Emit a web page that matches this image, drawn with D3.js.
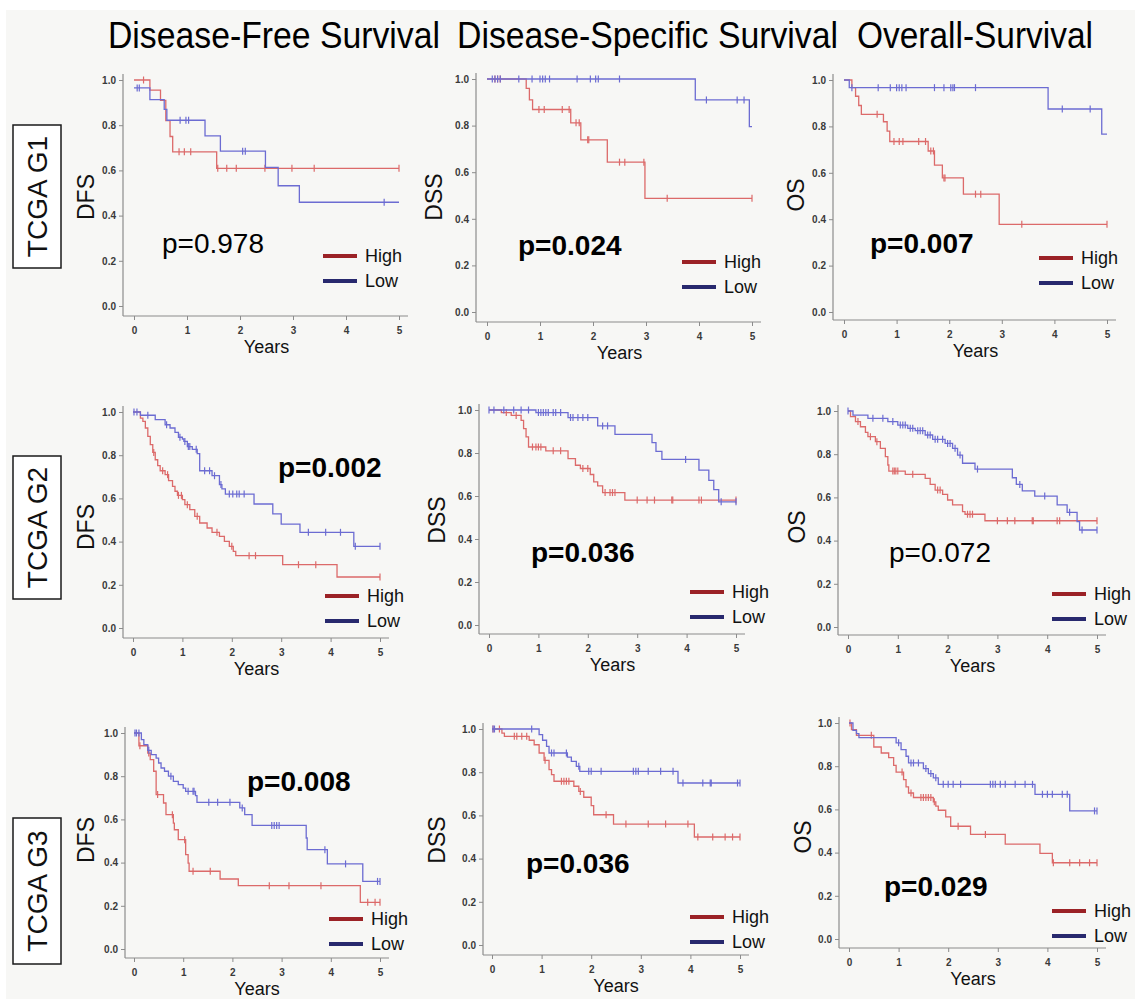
<!DOCTYPE html>
<html><head><meta charset="utf-8">
<script src="https://cdn.jsdelivr.net/npm/d3@7"></script>
<style>html,body{margin:0;padding:0;background:#fff;}svg{display:block;}</style>
</head><body>
<svg id="c" width="1135" height="999"></svg>
<script>
// ---------------- DATA ----------------
const columnTitles = ["Disease-Free Survival", "Disease-Specific Survival", "Overall-Survival"];
const rowLabels = ["TCGA G1", "TCGA G2", "TCGA G3"];
const yLabels = ["DFS", "DSS", "OS"];
const xTicks = [0, 1, 2, 3, 4, 5];
const yTicks = [0.0, 0.2, 0.4, 0.6, 0.8, 1.0];
const seriesNames = ["High", "Low"];
const pValues = [["p=0.978", "p=0.024", "p=0.007"], ["p=0.002", "p=0.036", "p=0.072"], ["p=0.008", "p=0.036", "p=0.029"]];
const pBold = [[false, true, true], [true, true, false], [true, true, true]];

// G1
const g1DfsHigh = [[0,1],[0.3,0.955],[0.5,0.91],[0.6,0.82],[0.68,0.75],[0.73,0.682],[1.56,0.609],[5,0.609]];
const g1DfsHighCens = [0.18,0.85,0.95,1.07,1.58,1.75,1.93,2.47,2.98,3.4,5.0];
const g1DfsLow = [[0,0.965],[0.3,0.913],[0.57,0.87],[0.62,0.822],[1.34,0.753],[1.63,0.685],[2.48,0.613],[2.72,0.532],[3.12,0.459],[5,0.459]];
const g1DfsLowCens = [0.06,0.1,0.87,0.98,1.03,2.05,2.1,4.72];

const g1DssHigh = [[0,1],[0.74,0.96],[0.8,0.91],[0.86,0.869],[1.58,0.812],[1.77,0.739],[2.27,0.643],[2.98,0.488],[5,0.488]];
const g1DssHighCens = [0.15,0.2,0.25,0.98,1.08,1.42,1.55,1.68,1.74,1.9,1.92,2.5,2.6,2.96,3.4,5.0];
const g1DssLow = [[0,1],[3.93,0.91],[4.95,0.796],[5,0.796]];
const g1DssLowCens = [0.1,0.15,0.2,0.25,0.6,0.85,1.0,1.05,1.1,1.18,1.7,1.95,2.05,2.1,2.5,4.14,4.72,4.85];

const g1OsHigh = [[0,1],[0.15,0.967],[0.22,0.93],[0.28,0.89],[0.33,0.852],[0.75,0.82],[0.82,0.78],[0.87,0.735],[1.6,0.694],[1.72,0.633],[1.87,0.578],[2.27,0.508],[2.95,0.378],[5,0.378]];
const g1OsHighCens = [0.63,0.95,1.05,1.12,1.42,1.55,1.65,1.7,1.9,1.92,2.5,2.6,3.38,5.0];
const g1OsLow = [[0,1],[0.1,0.967],[3.88,0.875],[4.9,0.767],[5,0.767]];
const g1OsLowCens = [0.15,0.65,0.88,1.0,1.05,1.1,1.18,1.72,1.9,2.03,2.07,2.1,2.5,4.15,4.68];

// G2
const g2DfsHigh = [[0,1],[0.15,0.972],[0.2,0.957],[0.25,0.926],[0.3,0.887],[0.35,0.849],[0.4,0.813],[0.45,0.779],[0.5,0.752],[0.55,0.728],[0.65,0.71],[0.72,0.682],[0.8,0.656],[0.85,0.633],[0.9,0.614],[1.0,0.594],[1.05,0.571],[1.15,0.548],[1.25,0.517],[1.35,0.486],[1.5,0.463],[1.6,0.443],[1.75,0.424],[1.85,0.401],[1.95,0.378],[2.03,0.355],[2.08,0.335],[3.03,0.293],[4.13,0.236],[5,0.236]];
const g2DfsHighCens = [0.42,0.6,0.7,0.92,0.98,1.1,1.3,1.7,2.0,2.35,2.48,3.35,3.7,5.0];
const g2DfsLow = [[0,1],[0.15,0.985],[0.45,0.965],[0.65,0.941],[0.75,0.926],[0.85,0.906],[0.92,0.883],[1.0,0.875],[1.03,0.864],[1.1,0.84],[1.2,0.827],[1.3,0.807],[1.35,0.728],[1.6,0.705],[1.75,0.664],[1.8,0.644],[1.87,0.62],[2.45,0.574],[2.83,0.528],[3.0,0.481],[3.38,0.443],[4.47,0.378],[5,0.378]];
const g2DfsLowCens = [0.02,0.08,0.3,0.68,0.95,1.05,1.12,1.15,1.28,1.45,1.55,1.65,1.78,1.95,2.02,2.1,2.15,2.25,3.55,3.9,4.2,4.5,5.0];

const g2DssHigh = [[0,1],[0.25,0.988],[0.45,0.975],[0.65,0.952],[0.7,0.913],[0.75,0.875],[0.8,0.828],[1.15,0.81],[1.6,0.774],[1.75,0.743],[1.85,0.728],[2.05,0.7],[2.12,0.666],[2.2,0.647],[2.3,0.616],[2.75,0.581],[5,0.581]];
const g2DssHighCens = [0.35,0.55,0.88,0.95,1.0,1.05,1.3,1.45,1.9,2.0,2.35,2.45,2.5,2.55,3.0,3.2,3.35,3.7,3.72,4.25,4.3,5.0];
const g2DssLow = [[0,1],[0.95,0.988],[1.6,0.965],[2.2,0.926],[2.55,0.887],[3.3,0.848],[3.38,0.808],[3.5,0.77],[4.25,0.72],[4.45,0.673],[4.55,0.63],[4.65,0.573],[5,0.573]];
const g2DssLowCens = [0.0,0.1,0.3,0.5,0.65,0.8,1.0,1.05,1.1,1.15,1.2,1.3,1.35,1.45,1.65,1.7,1.8,1.9,2.0,2.3,2.4,3.98,4.7,5.0];

const g2OsHigh = [[0,1],[0.05,0.974],[0.15,0.951],[0.25,0.927],[0.35,0.901],[0.4,0.881],[0.55,0.858],[0.65,0.827],[0.75,0.789],[0.8,0.75],[0.82,0.722],[1.15,0.707],[1.55,0.688],[1.65,0.66],[1.75,0.634],[1.9,0.614],[2.0,0.588],[2.1,0.565],[2.3,0.534],[2.35,0.522],[2.75,0.492],[5,0.492]];
const g2OsHighCens = [0.2,0.45,0.58,0.9,0.93,0.96,1.0,1.3,1.8,1.85,2.4,2.45,2.5,3.0,3.2,3.35,3.7,3.72,4.2,4.25,5.0];
const g2OsLow = [[0,1],[0.1,0.981],[0.4,0.966],[0.8,0.951],[1.0,0.935],[1.2,0.92],[1.35,0.909],[1.55,0.889],[1.7,0.869],[1.95,0.85],[2.1,0.827],[2.2,0.796],[2.3,0.758],[2.55,0.731],[3.3,0.691],[3.38,0.66],[3.5,0.63],[3.75,0.606],[4.2,0.565],[4.4,0.531],[4.6,0.488],[4.65,0.449],[5,0.449]];
const g2OsLowCens = [0.0,0.5,0.7,0.9,1.05,1.1,1.15,1.25,1.3,1.4,1.45,1.5,1.6,1.65,1.75,1.8,1.9,2.0,2.05,2.15,2.25,2.6,3.45,3.95,4.45,4.7,5.0];

// G3
const g3DfsHigh = [[0,1],[0.1,0.941],[0.28,0.907],[0.33,0.877],[0.4,0.823],[0.45,0.715],[0.6,0.676],[0.65,0.622],[0.8,0.583],[0.82,0.552],[0.9,0.506],[1.05,0.437],[1.1,0.398],[1.12,0.36],[1.75,0.324],[2.12,0.293],[4.6,0.216],[5,0.216]];
const g3DfsHighCens = [0.12,0.3,0.48,0.78,1.03,1.2,1.55,2.75,3.15,3.8,4.75,4.9,5.0];
const g3DfsLow = [[0,1],[0.15,0.969],[0.2,0.946],[0.28,0.92],[0.35,0.9],[0.45,0.884],[0.5,0.861],[0.55,0.838],[0.62,0.823],[0.7,0.8],[0.8,0.776],[0.9,0.761],[1.0,0.745],[1.05,0.73],[1.25,0.71],[1.28,0.679],[2.15,0.653],[2.25,0.622],[2.4,0.572],[3.5,0.514],[3.52,0.46],[3.93,0.394],[4.65,0.313],[5,0.313]];
const g3DfsLowCens = [0.02,0.05,0.1,0.3,0.75,1.1,1.2,1.22,1.52,1.7,1.95,2.2,2.8,2.85,2.9,2.95,3.88,4.3,4.95,5.0];

const g3DssHigh = [[0,1],[0.2,0.981],[0.25,0.966],[0.75,0.948],[0.85,0.927],[0.95,0.889],[1.05,0.855],[1.15,0.812],[1.2,0.789],[1.25,0.758],[1.65,0.735],[1.75,0.711],[1.85,0.684],[2.0,0.645],[2.05,0.603],[2.45,0.56],[4.08,0.5],[5,0.5]];
const g3DssHighCens = [0.02,0.15,0.45,0.5,0.6,0.7,1.07,1.4,1.45,1.5,1.55,1.78,2.3,2.7,3.15,3.5,3.95,4.15,4.45,4.7,4.85,5.0];
const g3DssLow = [[0,1],[0.95,0.974],[1.02,0.948],[1.1,0.92],[1.15,0.889],[1.52,0.87],[1.6,0.85],[1.7,0.827],[1.77,0.804],[3.75,0.75],[5,0.75]];
const g3DssLowCens = [0.02,0.05,0.8,1.2,1.25,1.5,1.75,1.95,2.0,2.2,2.85,2.9,2.95,3.15,3.4,3.65,3.85,4.25,4.4,4.42,4.95,5.0];

const g3OsHigh = [[0,1],[0.05,0.969],[0.15,0.943],[0.5,0.889],[0.65,0.861],[0.8,0.84],[0.9,0.804],[0.95,0.773],[1.1,0.738],[1.15,0.704],[1.2,0.676],[1.3,0.655],[1.7,0.635],[1.75,0.615],[1.8,0.596],[1.95,0.565],[2.05,0.522],[2.45,0.484],[3.15,0.439],[3.85,0.396],[4.1,0.353],[5,0.353]];
const g3OsHighCens = [0.02,0.45,1.07,1.25,1.45,1.5,1.55,1.6,1.65,1.72,2.2,2.75,4.12,4.45,4.65,4.85,5.0];
const g3OsLow = [[0,1],[0.08,0.966],[0.15,0.951],[0.2,0.932],[0.95,0.908],[1.05,0.877],[1.15,0.846],[1.2,0.815],[1.5,0.789],[1.6,0.766],[1.7,0.746],[1.8,0.716],[3.75,0.67],[4.45,0.593],[5,0.593]];
const g3OsLowCens = [1.0,1.25,1.3,1.4,1.55,1.65,1.75,1.9,2.0,2.1,2.25,2.85,2.9,2.95,3.05,3.15,3.35,3.55,3.7,3.9,4.0,4.1,4.3,4.4,4.95,5.0];

const curves = [
  [[g1DfsHigh,g1DfsHighCens,g1DfsLow,g1DfsLowCens],[g1DssHigh,g1DssHighCens,g1DssLow,g1DssLowCens],[g1OsHigh,g1OsHighCens,g1OsLow,g1OsLowCens]],
  [[g2DfsHigh,g2DfsHighCens,g2DfsLow,g2DfsLowCens],[g2DssHigh,g2DssHighCens,g2DssLow,g2DssLowCens],[g2OsHigh,g2OsHighCens,g2OsLow,g2OsLowCens]],
  [[g3DfsHigh,g3DfsHighCens,g3DfsLow,g3DfsLowCens],[g3DssHigh,g3DssHighCens,g3DssLow,g3DssLowCens],[g3OsHigh,g3OsHighCens,g3OsLow,g3OsLowCens]]
];

// ---------------- LAYOUT ----------------
const layout = [
  [ {ax:123,x0:134,x5:399,y1:80,y0:306,ay:316,lx:86,ly:197,px:162,py:243,gx:323,gy:256},
    {ax:476,x0:487,x5:752,y1:79,y0:312,ay:322,lx:434,ly:197,px:518,py:245,gx:682,gy:262},
    {ax:833,x0:844,x5:1107,y1:80,y0:312,ay:320,lx:796,ly:195,px:870,py:243,gx:1039,gy:258} ],
  [ {ax:123,x0:133,x5:380,y1:412,y0:628,ay:638,lx:86,ly:527,px:278,py:467,gx:325,gy:596},
    {ax:479,x0:489,x5:736,y1:410,y0:625,ay:634,lx:437,ly:520,px:531,py:552,gx:690,gy:592},
    {ax:838,x0:848,x5:1097,y1:411,y0:627,ay:635,lx:797,ly:527,px:889,py:552,gx:1052,gy:594} ],
  [ {ax:125,x0:134,x5:380,y1:733,y0:949,ay:958,lx:86,ly:840,px:247,py:781,gx:329,gy:919},
    {ax:483,x0:492,x5:740,y1:729,y0:945,ay:955,lx:437,ly:840,px:526,py:863,gx:690,gy:917},
    {ax:839,x0:849,x5:1097,y1:723,y0:939,ay:948,lx:803,ly:837,px:884,py:886,gx:1052,gy:911} ]
];
const titleLayout = [{x:108,w:332},{x:457,w:381},{x:857,w:236}];
const rowBoxes = [{x:13,y:125,w:48,h:143},{x:13,y:456,w:48,h:143},{x:13,y:818,w:48,h:146}];

const FONT = "'Liberation Sans', Arial, sans-serif";
const curveColor = {High:"#dc6a6a", Low:"#6c6cd2"};
const legendColor = {High:"#9b2226", Low:"#28296e"};

const svg = d3.select("#c");
svg.append("rect").attr("x",0).attr("y",0).attr("width",1135).attr("height",999).attr("fill","#ffffff");
svg.append("rect").attr("x",6).attr("y",10).attr("width",1129).attr("height",989).attr("fill","#f7f7f5");

// column titles
columnTitles.forEach((t,i)=>{
  svg.append("text").attr("x",titleLayout[i].x).attr("y",48)
    .attr("textLength",titleLayout[i].w).attr("lengthAdjust","spacingAndGlyphs")
    .attr("font-family",FONT).attr("font-size",36).attr("fill","#000").text(t);
});

// row labels
rowLabels.forEach((t,i)=>{
  const b = rowBoxes[i];
  svg.append("rect").attr("x",b.x).attr("y",b.y).attr("width",b.w).attr("height",b.h)
    .attr("fill","#ffffff").attr("stroke","#1a1a1a").attr("stroke-width",1.5);
  const cx = b.x + b.w/2, cy = b.y + b.h/2;
  svg.append("text").attr("transform",`translate(${cx+10},${cy}) rotate(-90)`)
    .attr("text-anchor","middle").attr("font-family",FONT).attr("font-size",28)
    .attr("fill","#111").text(t);
});

function survAt(ev, t){
  let s = ev[0][1];
  for (const [tt, ss] of ev){ if (tt <= t) s = ss; else break; }
  return s;
}

for (let r=0;r<3;r++){
  for (let c=0;c<3;c++){
    const L = layout[r][c];
    const [high, highC, low, lowC] = curves[r][c];
    const x = d3.scaleLinear().domain([0,5]).range([L.x0, L.x5]);
    const y = d3.scaleLinear().domain([0,1]).range([L.y0, L.y1]);
    const g = svg.append("g");

    g.append("line").attr("x1",L.ax).attr("x2",L.ax).attr("y1",L.y1-6).attr("y2",L.ay)
      .attr("stroke","#8c8c8c").attr("stroke-width",1.2);
    g.append("line").attr("x1",L.ax).attr("x2",L.x5+9).attr("y1",L.ay).attr("y2",L.ay)
      .attr("stroke","#8c8c8c").attr("stroke-width",1.2);

    const yAxis = d3.axisLeft(y).tickValues(yTicks).tickFormat(d3.format(".1f")).tickSize(4).tickPadding(3);
    const gy = g.append("g").attr("transform",`translate(${L.ax},0)`).call(yAxis);
    gy.select(".domain").remove();
    gy.selectAll(".tick line").attr("stroke","#8c8c8c");
    gy.selectAll("text").attr("font-family",FONT).attr("font-size",10).attr("font-weight","bold").attr("fill","#3a3a3a");

    const xAxis = d3.axisBottom(x).tickValues(xTicks).tickFormat(d3.format("d")).tickSize(4).tickPadding(7);
    const gx = g.append("g").attr("transform",`translate(0,${L.ay})`).call(xAxis);
    gx.select(".domain").remove();
    gx.selectAll(".tick line").attr("stroke","#8c8c8c");
    gx.selectAll("text").attr("font-family",FONT).attr("font-size",10).attr("font-weight","bold").attr("fill","#3a3a3a");

    g.append("text").attr("x",(L.x0+L.x5)/2).attr("y",L.ay+37).attr("text-anchor","middle")
      .attr("font-family",FONT).attr("font-size",18).attr("fill","#111").text("Years");
    g.append("text").attr("transform",`translate(${L.lx+8},${L.ly}) rotate(-90)`).attr("text-anchor","middle")
      .attr("font-family",FONT).attr("font-size",23).attr("fill","#111").text(yLabels[c]);

    const line = d3.line().x(d=>x(d[0])).y(d=>y(d[1])).curve(d3.curveStepAfter);
    [["High",high,highC],["Low",low,lowC]].forEach(([name, ev, cens])=>{
      g.append("path").attr("d",line(ev)).attr("fill","none")
        .attr("stroke",curveColor[name]).attr("stroke-width",1.3);
      g.selectAll(null).data(cens).enter().append("line")
        .attr("x1",d=>x(d)).attr("x2",d=>x(d))
        .attr("y1",d=>y(survAt(ev,d))-3.5).attr("y2",d=>y(survAt(ev,d))+3.5)
        .attr("stroke",curveColor[name]).attr("stroke-width",1.2);
    });

    g.append("text").attr("x",L.px).attr("y",L.py+10)
      .attr("font-family",FONT).attr("font-size",28)
      .attr("font-weight",pBold[r][c] ? "bold" : "normal").attr("fill","#000").text(pValues[r][c]);

    seriesNames.forEach((n,i)=>{
      const ly = L.gy + i*25;
      g.append("line").attr("x1",L.gx).attr("x2",L.gx+34).attr("y1",ly).attr("y2",ly)
        .attr("stroke",legendColor[n]).attr("stroke-width",4);
      g.append("text").attr("x",L.gx+42).attr("y",ly+6).attr("font-family",FONT)
        .attr("font-size",18).attr("fill","#111").text(n);
    });
  }
}
</script>
</body></html>
